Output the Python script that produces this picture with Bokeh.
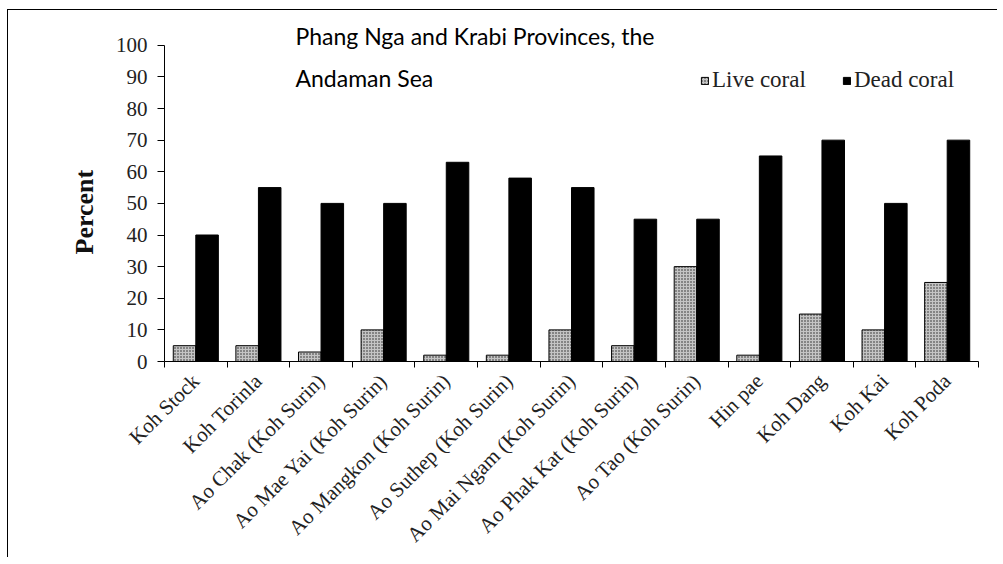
import math
from bokeh.plotting import figure
from bokeh.models import (ColumnDataSource, FixedTicker, Legend, LegendItem, Label,
                          LinearAxis, Range1d, Title)
from bokeh.transform import dodge
from bokeh.embed import file_html
from bokeh.resources import INLINE

sites = ["Koh Stock", "Koh Torinla", "Ao Chak (Koh Surin)", "Ao Mae Yai (Koh Surin)",
         "Ao Mangkon (Koh Surin)", "Ao Suthep (Koh Surin)", "Ao Mai Ngam (Koh Surin)",
         "Ao Phak Kat (Koh Surin)", "Ao Tao (Koh Surin)", "Hin pae", "Koh Dang",
         "Koh Kai", "Koh Poda"]
live_coral = [5, 5, 3, 10, 2, 2, 10, 5, 30, 2, 15, 10, 25]
dead_coral = [40, 55, 50, 50, 63, 58, 55, 45, 45, 65, 70, 50, 70]
y_ticks = [0, 10, 20, 30, 40, 50, 60, 70, 80, 90, 100]

n = len(sites)
centers = [i + 0.5 for i in range(n)]
bounds = list(range(n + 1))

src = ColumnDataSource(dict(x=centers, live=live_coral, dead=dead_coral))

p = figure(width=990, height=548, output_backend="svg", toolbar_location=None,
           x_range=Range1d(0, n), y_range=Range1d(0, 111),
           min_border_left=156, min_border_right=20, min_border_top=0,
           min_border_bottom=195, x_axis_location=None, y_axis_location=None)
p.outline_line_color = None
p.xgrid.visible = False
p.ygrid.visible = False
p.styles = {"border-top": "1px solid black", "border-left": "1px solid black",
            "margin-top": "9px", "margin-left": "7px"}

r_live = p.vbar(x=dodge("x", -0.18, range=p.x_range), top="live", width=0.36, source=src,
                fill_color="#c4c4c4", line_color="black", line_width=1,
                hatch_pattern="dot", hatch_color="#222222", hatch_scale=3, hatch_weight=1)
r_dead = p.vbar(x=dodge("x", 0.18, range=p.x_range), top="dead", width=0.36, source=src,
                fill_color="black", line_color="black")

serif = "Liberation Serif"

yax = LinearAxis(ticker=FixedTicker(ticks=y_ticks, minor_ticks=[]), bounds=(0, 100))
yax.major_label_text_font = serif
yax.major_label_text_font_size = "21px"
yax.major_label_text_color = "#222222"
yax.major_tick_out = 7
yax.major_tick_in = 0
yax.major_label_standoff = 10
yax.axis_line_color = "black"
yax.major_tick_line_color = "black"
p.add_layout(yax, "left")

ylabel = Title(text="Percent", align="left", offset=107, standoff=27,
               text_font=serif, text_font_style="bold", text_font_size="26px",
               text_color="#111111")
p.add_layout(ylabel, "left")

xax = LinearAxis(ticker=FixedTicker(ticks=centers, minor_ticks=bounds))
xax.major_label_overrides = {c: s for c, s in zip(centers, sites)}
xax.major_label_orientation = math.pi / 4
xax.major_label_text_font = serif
xax.major_label_text_font_size = "21px"
xax.major_label_text_color = "#222222"
xax.major_tick_out = 0
xax.major_tick_in = 0
xax.minor_tick_out = 6
xax.minor_tick_in = 0
xax.minor_tick_line_color = "black"
xax.axis_line_color = "black"
xax.major_label_standoff = 10
p.add_layout(xax, "below")

legend = Legend(items=[LegendItem(label="Live coral", renderers=[r_live]),
                       LegendItem(label="Dead coral", renderers=[r_dead])],
                orientation="horizontal", location=(536, 268),
                glyph_width=9, glyph_height=9, label_standoff=3, spacing=36,
                padding=0, margin=0, border_line_color=None, background_fill_alpha=0,
                label_text_font=serif, label_text_font_size="23px",
                label_text_color="#222222", label_height=23)
p.add_layout(legend, "center")

title = Label(x=131, y=340, x_units="screen", y_units="screen",
              text="Phang Nga and Krabi Provinces, the\nAndaman Sea",
              text_baseline="top", text_align="left", text_font="Lato",
              text_font_size="23px", text_color="black", text_line_height=1.5)
p.add_layout(title)

open("out.html", "w").write(file_html(p, INLINE))
